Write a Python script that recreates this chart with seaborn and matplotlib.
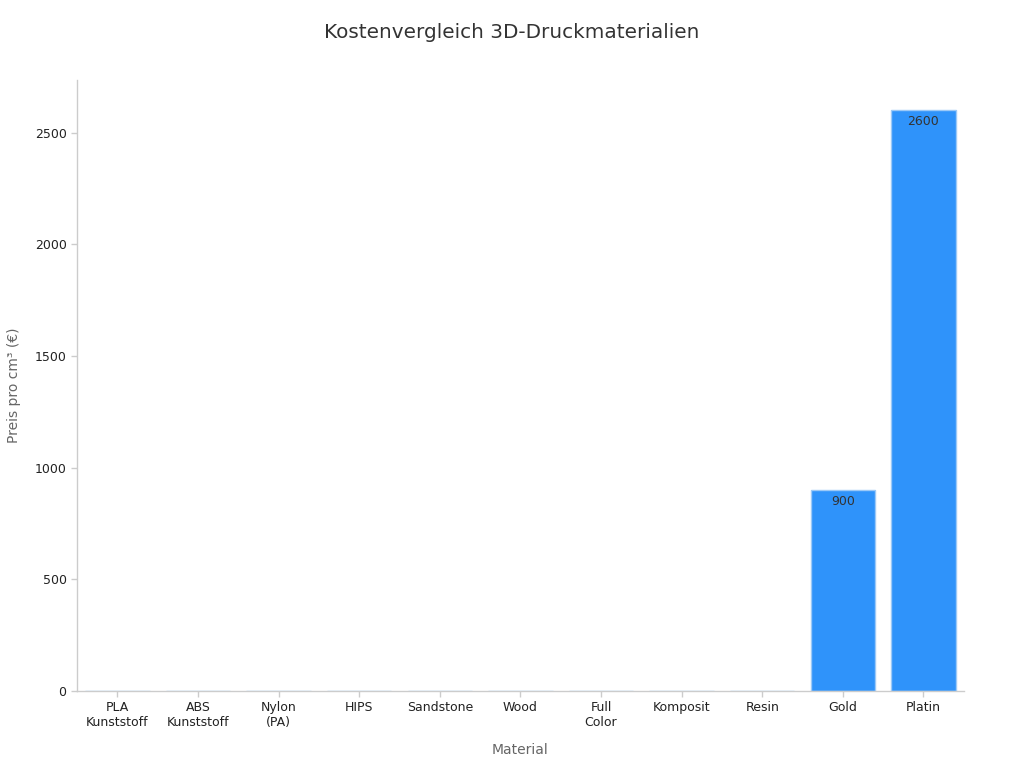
import matplotlib
matplotlib.use("Agg")
import matplotlib.pyplot as plt
import seaborn as sns
import pandas as pd

categories = ["PLA\nKunststoff", "ABS\nKunststoff", "Nylon\n(PA)", "HIPS", "Sandstone",
              "Wood", "Full\nColor", "Komposit", "Resin", "Gold", "Platin"]
prices = [0.05, 0.06, 0.3, 0.07, 0.5, 0.1, 1.0, 0.4, 0.2, 900, 2600]

df = pd.DataFrame({"Material": categories, "Preis": prices})

sns.set_theme(style="white")
plt.rcParams['font.family'] = ['DejaVu Sans']

fig = plt.figure(figsize=(10.24, 7.68), dpi=100)
ax = fig.add_axes([0.0752, 0.1003, 0.866, 0.7957])

sns.barplot(data=df, x="Material", y="Preis", color="#2F93FA", width=0.8,
            edgecolor="#9CC9F7", linewidth=1.0, ax=ax, saturation=1)

for i, v in enumerate(prices):
    if v > 100:
        ax.annotate(f"{v:g}", xy=(i, v), xytext=(0, -3.3), textcoords="offset points",
                    ha="center", va="top", fontsize=9, color="#333333")

ax.set_xlim(-0.5, len(categories) - 0.5)
ax.set_ylim(0, 2737)
ax.set_yticks([0, 500, 1000, 1500, 2000, 2500])
ax.set_xlabel("Material", fontsize=10, color="#666666", labelpad=10)
ax.set_ylabel("Preis pro cm³ (€)", fontsize=10, color="#666666", labelpad=10)
ax.tick_params(axis="both", labelsize=9, colors="#222222", length=4, color="#cccccc", width=1)
ax.tick_params(axis="x", bottom=True)
ax.tick_params(axis="y", left=True)
for s in ["top", "right"]:
    ax.spines[s].set_visible(False)
for s in ["left", "bottom"]:
    ax.spines[s].set_color("#cccccc")
    ax.spines[s].set_linewidth(1)

fig.suptitle("Kostenvergleich 3D-Druckmaterialien", fontsize=14.4, color="#333333", y=0.97)

fig.savefig("out.png", dpi=100)
